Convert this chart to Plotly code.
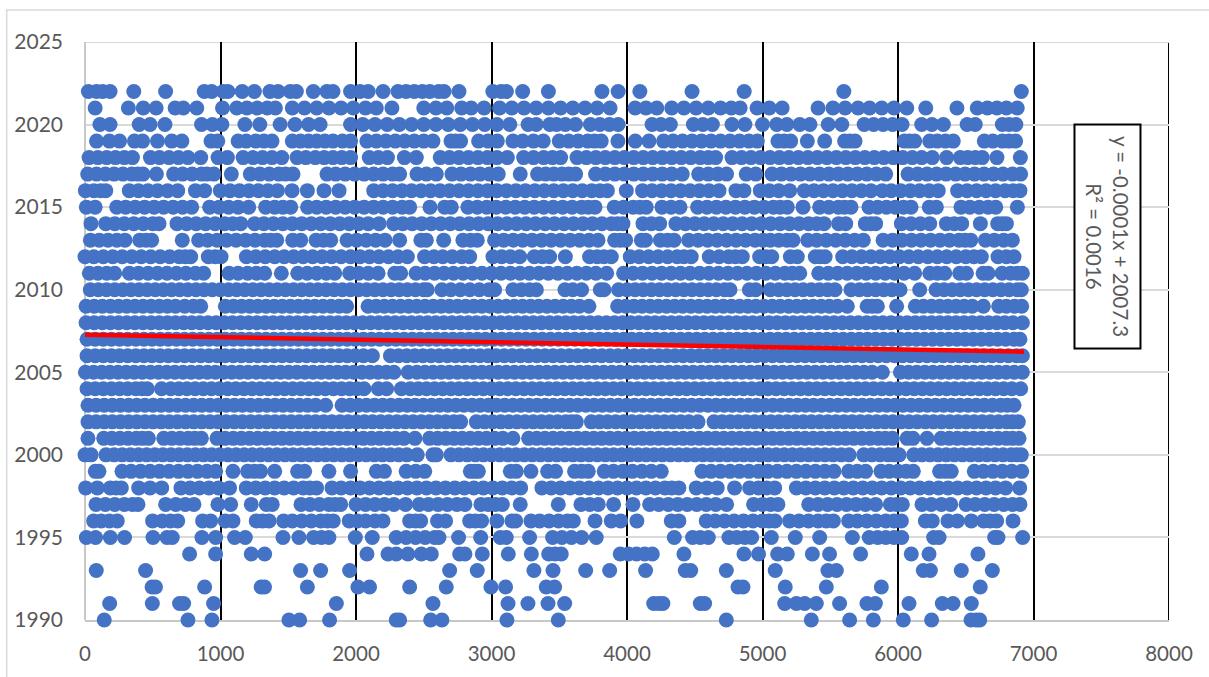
import plotly.graph_objects as go

x_2022=[25,85,130,185,360,595,880,935,1020,1055,1160,1250,1365,1425,1515,1560,1685,1785,1830,1960,2030,2090,2200,2310,2370,2430,2490,2545,2610,2650,2760,3010,3070,3110,3230,3420,3815,3935,4095,4480,4865,5600,6910]
x_2021=[75,320,430,525,665,725,825,1015,1120,1195,1270,1345,1405,1530,1620,1710,1800,1890,1980,2070,2150,2265,2500,2590,2670,2780,2850,2945,3060,3150,3240,3330,3420,3510,3600,3690,3780,3875,4060,4140,4220,4330,4420,4510,4600,4690,4770,4835,4960,5050,5145,5410,5520,5610,5705,5790,5880,5970,6065,6205,6435,6585,6660,6730,6800,6880]
x_2020=[110,185,400,480,590,860,940,1010,1180,1290,1440,1550,1650,1735,1960,2050,2140,2230,2320,2410,2500,2590,2680,2770,2860,2950,3040,3135,3270,3330,3430,3480,3545,3620,3730,3800,3870,3935,4185,4250,4320,4490,4560,4630,4775,4870,5000,5105,5180,5275,5350,5485,5585,5750,5820,5890,5960,6030,6175,6250,6335,6510,6570,6770,6820,6870]
x_2019=[85,180,255,365,425,535,640,715,930,980,1130,1190,1260,1320,1380,1530,1590,1650,1710,1770,1830,1900,1960,2080,2150,2220,2290,2360,2430,2500,2568,2701,2735,2772,2905,2975,3043,3158,3230,3310,3382,3500,3570,3640,3710,3760,3810,3933,4061,4162,4270,4340,4410,4480,4550,4620,4690,4760,4830,4900,4962,5114,5160,5208,5331,5459,5606,5645,5683,6047,6085,6123,6234,6290,6350,6408,6637,6700,6770,6820,6868]
x_2018=[30,95,160,225,290,350,483,550,620,690,760,854,982,1051,1167,1240,1310,1380,1452,1565,1630,1700,1765,1830,1895,1960,2098,2165,2232,2357,2445,2622,2690,2760,2830,2900,2970,3040,3117,3237,3310,3385,3450,3510,3631,3700,3770,3840,3910,3980,4050,4120,4190,4260,4330,4400,4470,4540,4600,4654,4775,4845,4915,4985,5055,5125,5195,5265,5335,5405,5475,5545,5615,5685,5755,5825,5895,5965,6035,6105,6175,6253,6359,6460,6515,6570,6622,6730,6903]
x_2017=[20,85,150,215,280,345,390,428,527,654,720,790,860,900,951,1080,1220,1290,1360,1430,1480,1535,1786,1850,1920,1990,2060,2130,2200,2270,2322,2450,2520,2593,2708,2775,2845,2915,2985,3050,3212,3340,3400,3460,3520,3570,3621,3768,3840,3910,3980,4050,4120,4190,4260,4330,4408,4529,4600,4670,4735,4880,4950,5070,5140,5210,5280,5350,5420,5490,5560,5630,5700,5770,5840,5909,6074,6145,6215,6285,6355,6425,6495,6565,6635,6705,6775,6845,6905]
x_2016=[3,65,115,153,327,395,465,535,610,684,815,883,999,1070,1140,1210,1280,1350,1420,1528,1641,1764,1875,2131,2200,2270,2340,2410,2480,2550,2620,2690,2760,2830,2900,2970,3040,3110,3180,3250,3320,3390,3460,3530,3600,3670,3740,3800,3855,3995,4115,4185,4255,4325,4395,4465,4535,4605,4679,4804,4863,4984,5050,5120,5200,5309,5380,5450,5520,5590,5660,5730,5800,5884,5950,6020,6090,6160,6230,6297,6440,6510,6580,6650,6720,6790,6850,6900]
x_2015=[10,75,234,300,370,440,510,580,650,720,787,920,990,1060,1130,1208,1333,1400,1460,1518,1643,1710,1780,1850,1920,1990,2060,2130,2200,2270,2340,2396,2546,2654,2703,2826,2895,2965,3035,3105,3175,3245,3315,3385,3455,3525,3595,3665,3715,3764,3906,3975,4045,4095,4142,4258,4325,4391,4521,4590,4660,4730,4800,4870,4940,5010,5080,5130,5183,5299,5422,5490,5560,5605,5653,5786,5850,5915,5980,6040,6096,6231,6283,6465,6530,6600,6665,6721,6881]
x_2014=[44,153,220,290,360,430,500,546,679,750,820,890,960,1030,1090,1149,1252,1320,1390,1460,1530,1600,1670,1740,1810,1880,1950,2020,2090,2170,2278,2345,2415,2485,2555,2625,2695,2765,2835,2905,2975,3045,3115,3185,3255,3325,3395,3465,3535,3605,3675,3745,3815,3885,3930,3970,4118,4180,4241,4361,4430,4500,4570,4640,4710,4780,4850,4920,4990,5060,5130,5200,5270,5340,5400,5454,5562,5614,5759,5800,5835,6025,6095,6165,6234,6357,6415,6470,6608,6736,6770,6800]
x_2013=[40,105,170,235,295,404,450,492,718,839,905,975,1045,1115,1185,1255,1325,1370,1415,1533,1592,1705,1760,1813,1934,2005,2075,2145,2214,2322,2479,2519,2647,2789,2845,2895,3023,3090,3160,3230,3300,3370,3440,3510,3580,3650,3720,3786,3909,3950,3990,4106,4137,4246,4300,4347,4455,4525,4595,4665,4735,4805,4875,4945,5004,5058,5120,5180,5225,5334,5400,5470,5540,5610,5680,5744,5890,5960,6030,6100,6170,6240,6310,6380,6450,6495,6537,6645,6710,6780,6844]
x_2012=[0,65,135,205,275,345,415,485,555,625,695,740,780,910,960,1004,1191,1260,1330,1400,1470,1540,1610,1680,1750,1820,1890,1960,2030,2100,2170,2240,2310,2379,2506,2575,2640,2710,2780,2839,3011,3075,3140,3208,3316,3375,3429,3545,3724,3780,3830,3884,4024,4090,4160,4230,4300,4370,4420,4474,4607,4680,4750,4800,4851,4979,5025,5068,5206,5257,5390,5425,5462,5592,5660,5730,5800,5870,5940,6010,6080,6150,6220,6290,6360,6430,6500,6560,6615,6738,6800,6856]
x_2011=[32,95,160,219,327,395,465,535,605,675,745,815,876,1063,1130,1200,1265,1326,1449,1570,1640,1710,1780,1843,1953,2020,2090,2163,2286,2330,2443,2510,2580,2650,2720,2790,2860,2930,3000,3070,3140,3210,3280,3350,3420,3490,3560,3630,3700,3770,3850,3975,4045,4115,4185,4255,4325,4395,4465,4535,4605,4675,4745,4815,4885,4955,5025,5095,5165,5220,5275,5415,5485,5555,5625,5695,5765,5835,5905,5975,6045,6123,6234,6290,6345,6455,6505,6628,6665,6768,6830,6880,6918]
x_2010=[39,99,159,219,279,339,399,459,519,579,639,699,759,819,879,939,999,1059,1119,1179,1239,1299,1359,1419,1479,1539,1599,1659,1719,1779,1839,1899,1959,2019,2079,2139,2199,2259,2319,2379,2439,2499,2526,2634,2700,2770,2840,2910,2980,3023,3158,3220,3280,3331,3542,3600,3665,3803,3830,3938,4000,4060,4120,4180,4240,4300,4360,4420,4480,4540,4600,4660,4720,4760,4903,4950,5058,5120,5180,5240,5300,5360,5420,5480,5535,5653,5715,5775,5835,5895,5955,6015,6160,6281,6340,6400,6460,6520,6580,6640,6700,6760,6820,6880,6910]
x_2009=[8,68,128,188,248,308,368,428,488,548,608,668,736,800,854,1036,1096,1156,1216,1276,1336,1396,1456,1516,1576,1636,1696,1756,1816,1876,1931,2089,2149,2209,2269,2329,2389,2449,2509,2569,2629,2689,2749,2809,2869,2929,2989,3049,3109,3169,3229,3289,3349,3409,3469,3529,3589,3649,3719,3931,3991,4051,4111,4171,4231,4291,4351,4411,4471,4531,4591,4651,4711,4771,4831,4891,4951,5011,5071,5131,5193,5253,5313,5373,5433,5493,5553,5626,5772,5810,5848,5990,6128,6188,6248,6308,6368,6428,6488,6548,6630,6743,6800,6860,6913]
x_2008=[8,68,128,188,248,308,368,428,488,548,608,668,728,788,848,908,968,1028,1088,1148,1208,1268,1328,1388,1448,1508,1568,1628,1688,1748,1808,1868,1928,1988,2048,2108,2168,2228,2288,2348,2408,2468,2528,2588,2648,2708,2768,2828,2888,2948,3008,3068,3128,3188,3248,3308,3368,3428,3488,3548,3608,3668,3728,3788,3848,3908,3968,4028,4088,4148,4208,4268,4328,4388,4448,4508,4568,4628,4688,4748,4808,4868,4928,4988,5048,5108,5168,5228,5288,5348,5408,5468,5528,5588,5648,5708,5768,5828,5888,5948,6008,6068,6128,6188,6248,6308,6368,6428,6488,6548,6608,6668,6728,6788,6848,6918]
x_2007=[15,75,135,195,255,315,375,435,495,555,615,675,735,795,855,915,975,1035,1095,1155,1215,1275,1335,1395,1455,1515,1575,1635,1695,1755,1815,1875,1935,1995,2055,2115,2175,2235,2295,2355,2415,2475,2535,2595,2655,2715,2775,2835,2895,2955,3015,3075,3135,3195,3255,3315,3375,3435,3495,3555,3615,3675,3735,3795,3855,3915,3975,4035,4095,4155,4215,4275,4335,4395,4455,4515,4575,4635,4695,4755,4815,4875,4935,4995,5055,5115,5175,5235,5295,5355,5415,5475,5535,5595,5655,5715,5775,5835,5895,5955,6015,6075,6135,6195,6255,6315,6375,6435,6495,6555,6615,6675,6735,6795,6855,6900]
x_2006=[15,75,135,195,255,315,375,435,495,555,615,675,735,795,855,915,975,1035,1095,1155,1215,1275,1335,1395,1455,1515,1575,1635,1695,1755,1815,1875,1935,1995,2055,2121,2254,2314,2374,2434,2494,2554,2614,2674,2734,2794,2854,2914,2974,3034,3094,3154,3214,3274,3334,3394,3454,3514,3574,3634,3694,3754,3814,3874,3934,3994,4054,4114,4174,4234,4294,4354,4414,4474,4534,4594,4654,4714,4774,4834,4894,4954,5014,5074,5134,5194,5254,5314,5374,5434,5494,5554,5614,5674,5734,5794,5854,5914,5974,6034,6094,6154,6214,6274,6334,6394,6454,6514,6574,6634,6694,6754,6814,6874,6918]
x_2005=[3,63,123,183,243,303,363,423,483,543,603,663,723,783,843,903,963,1023,1083,1143,1203,1263,1323,1383,1443,1503,1563,1623,1683,1743,1803,1863,1923,1983,2043,2103,2163,2223,2280,2385,2449,2509,2569,2629,2689,2749,2809,2869,2929,2989,3049,3109,3169,3229,3289,3349,3409,3469,3529,3589,3649,3709,3769,3829,3889,3949,4009,4069,4129,4189,4249,4309,4369,4429,4489,4549,4609,4669,4729,4789,4849,4909,4969,5029,5089,5149,5209,5269,5329,5389,5449,5509,5569,5629,5689,5749,5809,5885,6018,6078,6138,6198,6258,6318,6378,6438,6498,6558,6618,6678,6738,6798,6858,6918]
x_2004=[15,75,135,195,255,315,375,420,460,565,633,693,753,813,873,933,993,1053,1113,1173,1233,1293,1353,1413,1473,1533,1593,1653,1713,1773,1833,1893,1953,2006,2059,2165,2226,2335,2400,2460,2520,2580,2640,2700,2760,2820,2880,2940,3000,3060,3120,3180,3240,3300,3360,3420,3480,3540,3600,3660,3720,3780,3840,3900,3960,4020,4080,4140,4200,4260,4320,4380,4440,4500,4560,4620,4680,4740,4800,4860,4920,4980,5040,5100,5160,5220,5280,5340,5400,5460,5520,5580,5640,5700,5760,5820,5880,5940,6000,6060,6120,6180,6240,6300,6360,6420,6480,6540,6600,6660,6720,6780,6840,6905]
x_2003=[22,82,142,202,262,322,382,442,502,562,622,682,742,802,862,922,982,1042,1102,1162,1222,1282,1342,1402,1462,1522,1582,1642,1702,1776,1897,1957,2017,2077,2137,2197,2257,2317,2377,2437,2497,2557,2617,2677,2737,2797,2857,2917,2977,3037,3097,3157,3217,3277,3337,3397,3457,3517,3577,3637,3697,3757,3817,3877,3937,3997,4057,4117,4177,4237,4297,4357,4417,4477,4537,4597,4657,4717,4777,4837,4897,4957,5017,5077,5137,5197,5257,5317,5377,5437,5497,5557,5617,5677,5737,5797,5857,5917,5977,6037,6097,6157,6217,6277,6337,6397,6457,6517,6577,6637,6697,6757,6806,6856]
x_2002=[22,82,142,202,262,322,382,442,502,562,622,682,742,802,862,922,982,1042,1102,1162,1222,1282,1342,1402,1462,1522,1582,1642,1702,1762,1822,1882,1942,2002,2062,2122,2182,2242,2302,2362,2422,2482,2542,2602,2662,2722,2772,2888,2948,3008,3068,3128,3188,3248,3308,3368,3428,3488,3548,3590,3626,3737,3797,3857,3917,3977,4037,4097,4157,4217,4277,4337,4397,4457,4524,4642,4702,4762,4822,4882,4942,5002,5062,5122,5182,5242,5302,5362,5422,5482,5542,5602,5662,5722,5782,5842,5902,5962,6022,6082,6142,6202,6262,6322,6382,6442,6502,6562,6622,6682,6742,6802,6845,6888]
x_2001=[22,138,198,258,318,378,423,468,581,641,701,761,810,859,974,1034,1094,1154,1214,1274,1334,1394,1454,1514,1574,1634,1694,1754,1814,1874,1934,1994,2054,2114,2174,2234,2294,2354,2435,2543,2603,2663,2723,2783,2843,2903,2963,3023,3083,3158,3274,3334,3394,3454,3514,3574,3634,3694,3754,3814,3874,3934,3994,4054,4114,4174,4234,4294,4354,4414,4474,4534,4594,4654,4714,4774,4834,4894,4954,5014,5074,5134,5194,5254,5314,5374,5434,5494,5554,5614,5674,5734,5794,5854,5906,5958,6067,6111,6214,6318,6378,6438,6498,6558,6618,6678,6738,6798,6845,6893]
x_2000=[0,45,155,215,275,335,395,455,515,575,635,695,755,815,875,935,995,1055,1115,1175,1235,1295,1355,1415,1475,1535,1595,1655,1715,1775,1835,1895,1955,2015,2075,2135,2195,2255,2315,2375,2452,2568,2593,2701,2761,2821,2881,2941,3001,3061,3121,3181,3241,3301,3361,3421,3481,3541,3601,3661,3721,3781,3841,3901,3961,4021,4081,4141,4201,4261,4321,4381,4441,4501,4561,4621,4681,4741,4801,4861,4921,4981,5041,5101,5161,5221,5281,5341,5401,5461,5521,5581,5639,5747,5807,5867,5927,5970,6008,6116,6176,6236,6296,6356,6416,6476,6536,6596,6656,6716,6776,6836,6875,6910]
x_1999=[76,103,273,340,410,480,550,620,690,760,830,900,964,1092,1200,1250,1296,1400,1569,1621,1800,1960,2150,2210,2370,2440,2507,2844,2875,2903,3139,3183,3291,3414,3473,3613,3665,3714,3832,3900,3970,4040,4110,4180,4253,4553,4620,4690,4760,4830,4900,4970,5040,5110,5180,5250,5320,5390,5460,5528,5636,5700,5761,5874,5935,6000,6060,6113,6307,6350,6393,6563,6630,6700,6770,6840,6913]
x_1998=[5,91,187,230,268,396,480,566,708,775,845,915,985,1067,1190,1260,1330,1400,1470,1540,1610,1660,1709,1823,1890,1960,2030,2100,2170,2240,2310,2380,2450,2520,2590,2660,2730,2800,2870,2940,3010,3080,3150,3215,3372,3440,3510,3580,3650,3720,3790,3860,3930,4000,4070,4140,4210,4280,4330,4383,4511,4590,4666,4794,4905,4970,5030,5090,5250,5320,5390,5460,5530,5600,5670,5740,5810,5880,5950,6020,6090,6160,6230,6300,6370,6440,6510,6580,6650,6720,6794,6898]
x_1997=[81,150,220,290,350,391,595,670,740,804,981,1075,1227,1338,1382,1594,1660,1730,1800,1845,1887,2000,2070,2140,2210,2280,2366,2467,2535,2605,2675,2745,2804,2922,2975,3030,3080,3212,3493,3660,3725,3788,3901,4044,4167,4235,4305,4375,4445,4515,4585,4655,4735,4934,5000,5060,5114,5341,5410,5480,5550,5620,5690,5760,5835,5943,5990,6032,6177,6245,6320,6389,6502,6570,6640,6710,6780,6845,6900]
x_1996=[64,120,180,238,499,570,630,684,868,927,1035,1092,1264,1310,1358,1466,1530,1600,1670,1740,1790,1832,1950,2010,2070,2140,2199,2396,2440,2477,2602,2661,2839,2880,2927,3040,3151,3178,3291,3355,3425,3495,3560,3604,3764,3884,3953,4073,4327,4383,4585,4650,4720,4790,4860,4930,5000,5050,5092,5200,5270,5340,5410,5470,5523,5636,5700,5770,5840,5910,5970,6025,6202,6253,6369,6438,6541,6632,6680,6728,6849]
x_1995=[10,78,187,292,502,605,644,863,964,1104,1183,1461,1579,1687,1745,1800,1995,2120,2297,2370,2440,2510,2580,2612,2757,2920,3065,3109,3281,3451,3520,3590,3665,3773,4349,4484,4540,4600,4752,4810,4870,4920,5065,5242,5422,5663,5788,5850,5910,5970,6027,6263,6303,6713,6738,6920]
x_1994=[772,964,1227,1326,2081,2236,2297,2383,2482,2556,2765,2804,2932,3124,3294,3422,3470,3515,3950,4010,4070,4130,4187,4420,4863,4971,5112,5183,5368,5495,5724,6098,6229,6590]
x_1993=[83,447,1591,1739,1953,2691,2895,3313,3454,3695,3872,4137,4430,4470,4733,5094,5483,5545,6187,6239,6467,6696]
x_1992=[495,520,883,1300,1325,1641,2014,2100,2396,2666,2996,3104,3404,3466,4819,4856,5168,5471,5877,6607]
x_1991=[182,497,698,728,949,1855,2568,3122,3269,3417,3540,4197,4235,4265,4541,4573,5164,5250,5311,5397,5569,5771,5833,6081,6327,6406,6541]
x_1990=[142,760,937,1505,1584,1805,2297,2322,2551,2634,3114,3493,4733,5360,5643,5818,6039,6248,6539,6578,6603]

years=[2022,2021,2020,2019,2018,2017,2016,2015,2014,2013,2012,2011,2010,2009,2008,2007,2006,2005,2004,2003,2002,2001,2000,1999,1998,1997,1996,1995,1994,1993,1992,1991,1990]
rows=[x_2022,x_2021,x_2020,x_2019,x_2018,x_2017,x_2016,x_2015,x_2014,x_2013,x_2012,x_2011,x_2010,x_2009,x_2008,x_2007,x_2006,x_2005,x_2004,x_2003,x_2002,x_2001,x_2000,x_1999,x_1998,x_1997,x_1996,x_1995,x_1994,x_1993,x_1992,x_1991,x_1990]
trend_x=[0,6930]
trend_y=[2007.27,2006.25]
x_ticks=[0,1000,2000,3000,4000,5000,6000,7000,8000]
y_ticks=[1990,1995,2000,2005,2010,2015,2020,2025]
equation="y = -0.0001x + 2007.3<br>R² = 0.0016"

all_x=[v for r in rows for v in r]
all_y=[y for y,r in zip(years,rows) for _ in r]

W,H=1209,677
L,R,T,B=85.3,1169,42,620
px=lambda v:(v-L)/(R-L)
py=lambda v:(B-v)/(B-T)

fig=go.Figure()
fig.add_trace(go.Scatter(x=all_x,y=all_y,mode="markers",cliponaxis=False,hoverinfo="skip",
    marker=dict(color="#4472c4",size=15,line=dict(width=0))))
fig.add_trace(go.Scatter(x=trend_x,y=trend_y,mode="lines",cliponaxis=False,hoverinfo="skip",
    line=dict(color="#ff0000",width=4.5)))
tf=dict(family="Lato",size=20.5,color="#595959")
tfy=dict(family="Lato",size=21,color="#595959")
fig.update_layout(width=W,height=H,margin=dict(l=L,r=W-R,t=T,b=H-B,autoexpand=False),
    paper_bgcolor="white",plot_bgcolor="white",showlegend=False,hovermode=False,
    xaxis=dict(range=[0,8000],tickvals=x_ticks,tickfont=tf,showgrid=True,gridcolor="#000000",gridwidth=2,
        zeroline=True,zerolinecolor="#c8c8c8",zerolinewidth=2,showline=True,linecolor="#c8c8c8",linewidth=2,
        layer="below traces",ticks="",ticklabelstandoff=14),
    yaxis=dict(range=[1990,2025],tickvals=y_ticks,tickfont=tfy,showgrid=True,gridcolor="#d9d9d9",gridwidth=1.5,
        zeroline=False,showline=False,layer="below traces",ticks="",ticklabelstandoff=21,tickformat="d"),
    shapes=[dict(type="rect",xref="paper",yref="paper",x0=px(7),x1=px(1300),y0=py(10),y1=py(760),
            line=dict(color="#d9d9d9",width=1.5),layer="below"),
        dict(type="line",xref="x",yref="y",x0=x_ticks[-1],x1=x_ticks[-1],y0=y_ticks[0],y1=y_ticks[-1],
            line=dict(color="#000000",width=2),layer="below"),
        dict(type="line",xref="x",yref="y",x0=x_ticks[0],x1=x_ticks[-1],y0=y_ticks[-1],y1=y_ticks[-1],
            line=dict(color="#d9d9d9",width=2),layer="below")],
    annotations=[dict(xref="paper",yref="paper",x=px(1107.5),y=py(237),xanchor="center",yanchor="middle",
        text=equation,textangle=90,showarrow=False,font=dict(family="Lato",size=20.5,color="#595959"),
        width=222,height=64,bgcolor="white",bordercolor="#000000",borderwidth=2,borderpad=0,align="center",valign="middle")])
fig.write_html("out.html",config=dict(displayModeBar=False),post_script="document.body.style.margin='0';")
